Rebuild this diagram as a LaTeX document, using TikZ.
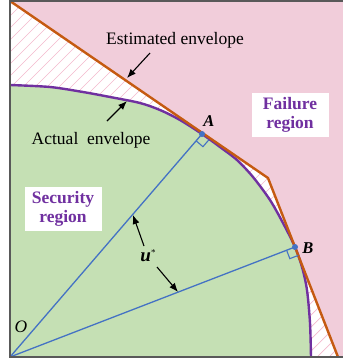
\documentclass[tikz,border=0pt]{standalone}
\usepackage{fontspec}
\setmainfont{Liberation Serif}
\usetikzlibrary{arrows.meta,calc}
\definecolor{failpink}{RGB}{241,205,218}
\definecolor{safegreen}{RGB}{197,224,180}
\definecolor{envorange}{RGB}{197,90,17}
\definecolor{envpurple}{RGB}{112,48,160}
\definecolor{rayblue}{RGB}{68,114,196}
\definecolor{hatchpink}{RGB}{243,185,205}
\definecolor{framegray}{RGB}{89,89,89}
\tikzset{
  lbl/.style={font=\fontsize{17.5}{19}\selectfont, inner sep=0pt},
  regbox/.style={fill=white, text=envpurple, align=center, inner sep=0pt,
    font=\fontsize{17.5}{19}\selectfont\bfseries, minimum width=77pt, minimum height=44pt},
  ptlbl/.style={font=\fontsize{16.5}{18}\selectfont\bfseries\itshape, inner sep=0pt},
  arr/.style={-{Latex[length=9pt,width=7pt]}, line width=1.1pt, black},
  ray/.style={rayblue, line width=1.3pt},
  envline/.style={line width=2.4pt},
}
\begin{document}
\begin{tikzpicture}[x=1pt,y=-1pt]
\useasboundingbox (0,0) rectangle (343,362);
\coordinate (TL) at (10,1);
\coordinate (K) at (268,178);
\coordinate (BR) at (338,357);
\coordinate (O) at (10,357);
\coordinate (A) at (202,134);
\coordinate (B) at (295,247);
% failure region
\fill[failpink] (10,1) rectangle (343,357);
% hatched gap
\fill[white] (TL) -- (K) -- (BR) -- (O) -- cycle;
\begin{scope}
\clip (TL) -- (K) -- (BR) -- (O) -- cycle;
\foreach \k in {-372,-360,...,350} \draw[hatchpink, line width=0.7pt] (\k,362) -- ++(362,-362);
\end{scope}
% security region
\def\envpts{(10,85) (50,87) (83,92) (110,97) (140,103) (160,110) (180,120) (202,134) (220,147) (237,160) (253,177) (270,200) (283,223) (295,247) (302,267) (307,290) (310,323) (311,357)}
\fill[safegreen] (O) -- plot[smooth] coordinates {\envpts} -- cycle;
\draw[envpurple, envline] plot[smooth] coordinates {\envpts};
\draw[envorange, envline, line join=miter] (TL) -- (K) -- (BR);
% rays
\draw[ray] (O) -- (A);
\draw[ray] (O) -- (B);
\coordinate (Au) at ($(A)!9pt!(O)$);
\coordinate (Ap) at ($(A)!9pt!90:(O)$);
\draw[ray, line width=1.1pt] (Au) -- ($(Au)+(Ap)-(A)$) -- (Ap);
\coordinate (Bu) at ($(B)!9pt!(O)$);
\coordinate (Bp) at ($(B)!9pt!90:(O)$);
\draw[ray, line width=1.1pt] (Bu) -- ($(Bu)+(Bp)-(B)$) -- (Bp);
\fill[rayblue] (A) circle (3pt);
\fill[rayblue] (B) circle (3pt);
% frame
\draw[framegray, line width=2pt] (343,1) -- (10,1) -- (10,357) -- (343,357);
% labels
\node[lbl] (est) at (175,40) {Estimated envelope};
\coordinate (estTail) at (150,53);
\coordinate (estTip) at (127,78);
\draw[arr] (estTail) -- (estTip);
\node[lbl] (act) at (91,140) {Actual\ \ envelope};
\coordinate (actTail) at (107,121);
\coordinate (actTip) at (127,101);
\draw[arr] (actTail) -- (actTip);
\node[regbox] (fail) at (290,115) {Failure\\region};
\node[regbox] (sec) at (63,209) {Security\\region};
\node[ptlbl] (lA) at (209,121) {A};
\node[ptlbl] (lB) at (308,248) {B};
\node[lbl, font=\fontsize{17.5}{19}\selectfont\itshape] (lO) at (21,327) {O};
\node[lbl, font=\fontsize{19}{20}\selectfont] (u) at (148,256) {\bfseries\itshape u\raisebox{6pt}{\normalfont\fontsize{9}{9}\selectfont *}};
\coordinate (u1Tail) at (144,246);
\coordinate (u1Tip) at (133,215);
\draw[arr] (u1Tail) -- (u1Tip);
\coordinate (u2Tail) at (157,267);
\coordinate (u2Tip) at (178,292);
\draw[arr] (u2Tail) -- (u2Tip);
\end{tikzpicture}
\end{document}
